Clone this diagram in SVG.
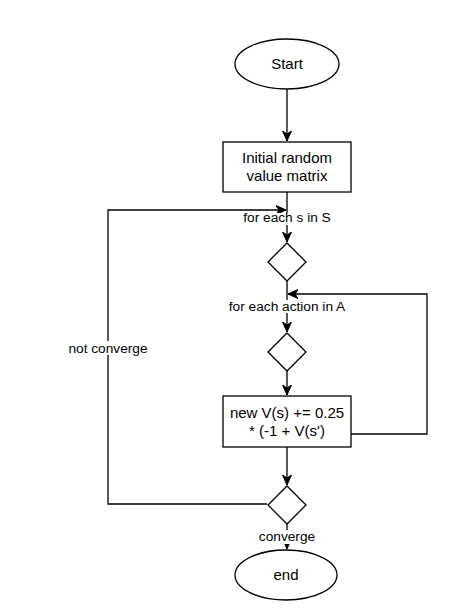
<svg xmlns="http://www.w3.org/2000/svg" width="469" height="616" viewBox="0 0 469 616">
<style>
.n{fill:#fff;stroke:#000;stroke-width:1.3}
.e{fill:none;stroke:#000;stroke-width:1.3}
.t{font-family:"Liberation Sans",Arial,sans-serif;font-size:15px;fill:#000;text-anchor:middle}
.l{font-family:"Liberation Sans",Arial,sans-serif;font-size:13.7px;fill:#000;text-anchor:middle}
.bg{fill:#fff}
</style>
<defs>
<marker id="a" markerUnits="userSpaceOnUse" markerWidth="12" markerHeight="10" refX="10" refY="5" orient="auto">
<path d="M0,0.5 L10,5 L0,9.5 L3,5 z" fill="#000" stroke="#000" stroke-width="1"/>
</marker>
</defs>
<rect width="469" height="616" fill="#fff"/>
<g id="connectors">
<line class="e" x1="287" y1="89" x2="287" y2="141" marker-end="url(#a)"/>
<line class="e" x1="287" y1="192" x2="287" y2="242" marker-end="url(#a)"/>
<line class="e" x1="287" y1="281" x2="287" y2="332" marker-end="url(#a)"/>
<line class="e" x1="287" y1="371" x2="287" y2="395" marker-end="url(#a)"/>
<line class="e" x1="287" y1="447" x2="287" y2="485" marker-end="url(#a)"/>
<line class="e" x1="287" y1="524" x2="287" y2="549" marker-end="url(#a)"/>
<polyline class="e" points="351,434 427,434 427,294 288,294" marker-end="url(#a)"/>
<polyline class="e" points="267,504 108,504 108,210 286,210" marker-end="url(#a)"/>
</g>
<g id="labels">
<rect class="bg" x="241" y="213" width="92" height="12"/>
<text class="l" x="287" y="222">for each s in S</text>
<rect class="bg" x="225" y="300" width="124" height="13"/>
<text class="l" x="287" y="311">for each action in A</text>
<rect class="bg" x="257" y="530" width="60" height="14"/>
<text class="l" x="287" y="541">converge</text>
<rect class="bg" x="67" y="341" width="82" height="14"/>
<text class="l" x="108" y="353">not converge</text>
</g>
<g id="start">
<ellipse class="n" cx="287" cy="64" rx="52" ry="25"/>
<text class="t" x="287" y="69">Start</text>
</g>
<g id="init">
<rect class="n" x="223" y="142" width="128" height="50"/>
<text class="t" x="287" y="163">Initial random</text>
<text class="t" x="287" y="181">value matrix</text>
</g>
<g id="d1">
<polygon class="n" points="287,243 306,262 287,281 268,262"/>
</g>
<g id="d2">
<polygon class="n" points="287,333 306,352 287,371 268,352"/>
</g>
<g id="update">
<rect class="n" x="223" y="396" width="128" height="51"/>
<text class="t" x="287" y="418">new V(s) += 0.25</text>
<text class="t" x="287" y="436">* (-1 + V(s')</text>
</g>
<g id="d3">
<polygon class="n" points="287,486 306,505 287,524 268,505"/>
</g>
<g id="end">
<ellipse class="n" cx="286" cy="575" rx="51" ry="25"/>
<text class="t" x="286" y="580">end</text>
</g>
</svg>
